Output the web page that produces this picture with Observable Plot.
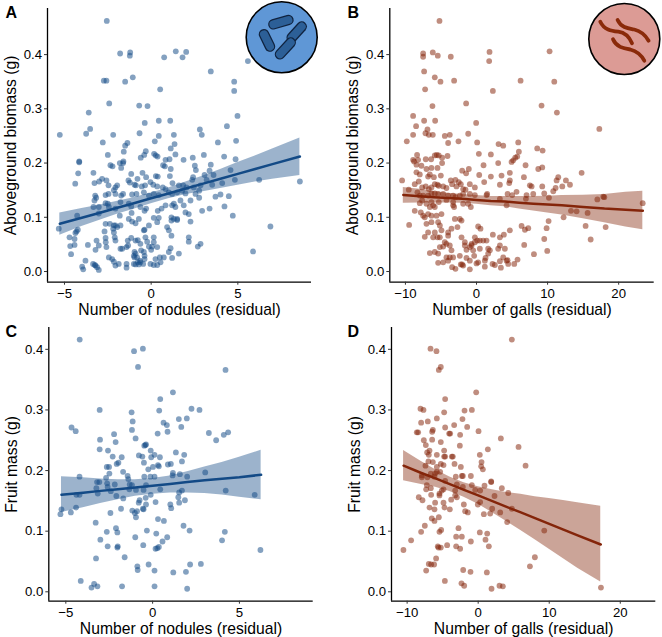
<!DOCTYPE html>
<html><head><meta charset="utf-8">
<script src="https://cdn.jsdelivr.net/npm/d3@7"></script>
<script src="https://cdn.jsdelivr.net/npm/@observablehq/plot@0.6"></script>
<style>
html,body{margin:0;padding:0;background:#fff}
#root{position:relative;width:662px;height:637px;overflow:hidden;font-family:"Liberation Sans",Arial,sans-serif}
#root>svg,#root>div{position:absolute}
</style></head><body><div id="root"></div>
<script>
const nodX = "Number of nodules (residual)", galX = "Number of galls (residual)";
const bioY = "Aboveground biomass (g)", fruitY = "Fruit mass (g)";
const blue = "#134a86", brown = "#84250a";

const aPts = [[-2.56,.462],[-1.79,.402],[-1.21,.404],[-1.23,.398],[.75,.395],[1.42,.406],[1.81,.395],[2.02,.405],[5.58,.388],[3.44,.369],[-2.73,.352],[-2.58,.352],[-1.5,.35],[-1.06,.358],[4.79,.35],[4.79,.333],[.52,.336],[-2.42,.31],[-.69,.306],[-.21,.305],[-3.6,.293],[4.98,.287],[-.37,.274],[.44,.278],[1.1,.278],[4.37,.268],[2.81,.262],[-3.52,.263],[-3.75,.254],[-5.27,.252],[-2.19,.252],[-.67,.255],[.44,.25],[1.31,.252],[2.92,.252],[-2.79,.238],[-1.37,.237],[-1.5,.232],[.21,.24],[1.35,.235],[1.13,.227],[3.85,.238],[4.9,.241],[-1.58,.221],[-.31,.222],[-2.5,.215],[-.4,.215],[-.6,.21],[.17,.217],[.27,.214],[.37,.212],[1.4,.216],[2.4,.21],[3.04,.215],[4.21,.212],[4.87,.207],[.83,.206],[1.06,.207],[1.87,.206],[-4.15,.203],[-1.6,.203],
[-4.15,.2015],[-2.35,.196],[-2.23,.194],[-1.81,.2],[-1.62,.2],[-1.73,.191],[.69,.196],[.79,.194],[1.13,.189],[2.52,.195],[2.58,.187],[3.44,.197],[3.37,.186],[4.58,.187],[-4.21,.181],[-3.33,.182],[-1.15,.18],[-.5,.182],[.27,.176],[.38,.175],[1.08,.176],[2.42,.174],[3.08,.178],[3.6,.178],[-4.38,.162],[-3.27,.163],[-3,.166],[-2.83,.171],[-2.58,.168],[-2.46,.159],[-2.06,.155],[-1.96,.159],[-1.31,.168],[-1.23,.164],[-.79,.171],[-.29,.174],[-.96,.16],[-.88,.159],[-.54,.157],[-.35,.159],[-.04,.165],[.12,.16],[.35,.157],[.67,.155],[1.23,.163],[1.6,.159],[1.85,.159],[2.04,.155],[2.37,.169],[2.46,.155],[2.85,.159],[3.52,.16],[4.1,.163],[4.83,.169],[6.23,.169],[8.58,.166],[3.2,.169],
[-3.23,.14],[-3.17,.136],[-3.27,.131],[-2.63,.141],[-2.46,.143],[-2.15,.15],[-2.06,.143],[-1.73,.14],[-1.62,.143],[-1.1,.142],[-.85,.143],[-.42,.146],[-.13,.14],[.15,.143],[.44,.141],[.83,.152],[1.02,.146],[1.21,.143],[1.5,.146],[1.79,.149],[1.98,.144],[2.27,.131],[2.56,.143],[2.77,.149],[2.77,.136],[3.71,.138],[4,.142],[4.48,.139],[4.23,.12],[4.71,.103],[6.88,.083],[5.88,.037],[-4.27,.103],[-3.33,.119],[-3.02,.119],[-2.63,.126],[-2.5,.125],
[-3.02,.107],[-2.44,.119],[-2.06,.116],[-1.77,.128],[-1.81,.103],[-1.29,.125],[-1.15,.12],[-1.13,.108],[-1.29,.097],[-1.1,.092],[-.71,.097],[-.9,.089],[-.62,.119],[-.38,.112],[-.29,.116],[.38,.112],[.6,.116],[.83,.122],[1.21,.122],[1.31,.125],[1.69,.131],[1.4,.119],[1.88,.122],[1.98,.109],[2.17,.106],[1.17,.1],[1.31,.097],[1.5,.097],[1.17,.094],[1.5,.095],[2.27,.092],[2.94,.112],[3.37,.116],[.15,.099],[.44,.099],[.35,.091],[-.13,.085],[-.42,.076],[-.38,.077],[.92,.082],[1.02,.076],[1.17,.066],[2.17,.063],[2.17,.055],[2.85,.051],[2.69,.046],[1.6,.033],[1.21,.025],[1.12,.043],[1.02,.036],[.73,.026],[.5,.026],[.25,.023],[.54,.017],[.35,.012],[.15,.012],[-.04,.014],
[-5.33,.079],[-4.71,.063],[-4.42,.06],[-4.23,.077],[-4.31,.074],[-4.37,.071],[-4.67,.047],[-4.42,.049],[-4.62,.032],[-3.65,.049],[-3.98,.009],[-3.92,.004],[-3.79,.02],[-3.35,.014],[-3.21,.011],[-3.12,.008],[-3.02,.003],[-3.25,.012],[-3.15,.057],[-3.02,.048],[-3.21,.04],[-2.63,.062],[-2.62,.054],[-2.58,.045],[-2.69,.074],[-2.63,.088],[-2.38,.088],[-2.15,.085],[-2.19,.079],[-2.06,.085],[-1.96,.082],[-1.77,.085],[-2.15,.072],[-2.1,.063],[-2.06,.057],[-1.77,.042],[-1.67,.042],[-1.42,.045],[-1.33,.048],[-2.44,.026],[-2.25,.023],[-2.15,.018],[-2.06,.011],[-1.87,.014],[-1.42,.014],[-1.42,.007],[-1.35,.057],[-1.15,.062],[-.9,.057],[-.77,.058],[-.62,.051],[-.33,.063],[-.23,.055],[.15,.063],[.15,.054],[.06,.046],[-.13,.046],[0,.04],[.35,.045],[-.96,.036],[-.9,.033],[-1,.029],[-.96,.026],[-.81,.026],[-.58,.039],[-.42,.036],[-.38,.029],[-.38,.023],[-.65,.02],[-.77,.017],[-.62,.017],[-.46,.014],[-1,.014],[-.9,.013],[-.71,.013]];

const bPts = [[-5.21,.462],[10.28,.406],[1.83,.405],[-7.51,.402],[-7.51,.396],[-6.15,.404],[-5.45,.398],[-3.62,.396],[1.78,.388],[-7.37,.369],[-5.87,.358],[-5.07,.35],[-3.15,.352],[6.2,.352],[10.94,.35],[-7.23,.336],[2.3,.333],[-6.2,.305],[-1.46,.31],[9.15,.306],[11.31,.293],[-8.92,.287],[-7.37,.278],[-5.82,.278],[-.05,.274],[-8.5,.268],[-6.9,.262],[17.28,.263],[-8.92,.252],[-7.18,.255],[-6.71,.252],[-6.15,.252],[-4.46,.25],[-3.76,.252],[-1.17,.254],[-9.81,.24],[-3.99,.237],[-2.54,.24],[.09,.238],[5.87,.238],[3.1,.235],[3.76,.232],[8.54,.227],[9.3,.223],[5.96,.221],[.33,.217],[2.02,.216],[-8.36,.215],[-5.87,.214],[-5.59,.215],[-5.31,.214],[-4.08,.213],[5.73,.212],[5.45,.21],[-4.84,.21],[-8.92,.206],[-8.22,.206],[-7.14,.207],[-6.38,.207],[5.16,.205],
[-8.78,.203],[-8.45,.197],[-7.75,.195],[-7.04,.189],[-6.34,.191],[-5.49,.191],[-4.84,.2],[-8.45,.183],[-7.98,.179],[-6.57,.179],[-6.81,.175],[-6,.174],[-5.02,.177],[-2.02,.186],[-1.08,.189],[-1.46,.181],[.99,.196],[3.05,.2],[4.93,.202],[6.9,.196],[8.69,.189],[9.25,.192],[14.79,.182],[6.67,.174],[4.69,.182],[3.52,.177],[2.02,.175],[.38,.178],[1.08,.165],[3.29,.16],[4.69,.168],[4.6,.163],[7.51,.159],[7.75,.157],[9.25,.157],[11.5,.174],[11.27,.168],[12.58,.168],[13.15,.16],[12.07,.157],[10.8,.148],[11.13,.154],[9.53,.144],[10.19,.136],[7.98,.143],[7.04,.141],[6.95,.134],[5.63,.147],[5.02,.141],[4.37,.143],[3.29,.134],[4.23,.122],[1.5,.143],[1.41,.141],[-10.47,.168],[-9.53,.151],[-9.48,.086],[-8.69,.112],[-7.84,.109],[17.84,.138],[17.98,.137],[17,.133],[23.38,.126],[13.29,.112],[14.08,.111],[12.25,.1],[15.63,.108],[15.35,.084],[18.17,.082],[16.06,.059],[10.14,.093],[9.86,.08],[9.53,.06],[9.95,.038],[8.08,.032],[6.34,.084],[6.81,.077],[7.28,.08],[6.71,.049],[5.77,.022],[5.31,.014],[4.69,.076],[3.85,.068],[3.29,.063],[2.3,.068],[3.05,.042],[3.99,.042],
[3.29,.048],[1.88,.039],[1.64,.033],[1.27,.025],[1.17,.02],[1.17,.009],[2.25,.014],[2.58,.012],[3.43,.007],[3.29,.019],[3.76,.026],[4.23,.02],[4.46,.014],[4.37,.021],
[-8.69,.161],[-8.12,.166],[-7.65,.155],[-7.14,.157],[-6.71,.152],[-6.34,.155],[-5.87,.161],[-5.49,.16],[-5.31,.158],[-4.69,.157],[-4.23,.154],[-3.62,.168],[-2.96,.169],[-2.49,.165],[-2.21,.161],[-3.43,.161],[-2.82,.157],[-1.88,.152],[-1.55,.151],[-.94,.161],[-.23,.155],[-.94,.143],[-.23,.141],[-1.88,.143],[-2.35,.14],[-2.96,.137],[-3.29,.14],[-3.99,.14],[-4.69,.143],[-5.4,.143],[-5.87,.144],[-6.34,.144],[-6.81,.14],[-7.51,.14],[-7.98,.14],[-8.31,.146],[-7.65,.131],[-7.98,.126],[-7.04,.125],[-6.34,.128],[-6.57,.119],[-6.1,.122],[-5.87,.119],[-5.31,.128],[-4.23,.132],[-3.29,.128],[-3.29,.122],[-3.15,.119],[-1.88,.125],[-1.17,.125],[-.8,.119],[-6.81,.106],[-7.28,.1],[-7.51,.103],[-6.34,.103],[-5.63,.103],[-4.93,.106],[-5.4,.091],[-5.16,.085],[-7.04,.088],[-6.34,.091],[-4.93,.076],[-3.99,.072],[-3.52,.079],[-3.05,.097],[-2.35,.097],[-2.11,.094],[-2.68,.082],[-5.87,.072],[-5.49,.063],[-6.81,.072],[-7.28,.064],[-6.1,.063],[-5.16,.063],[-4.46,.054],[-3.99,.066],[-4.23,.051],[-3.76,.048],[-5.16,.045],[-4.69,.046],[-3.52,.039],[-6.57,.034],[-5.87,.036],[-5.4,.033],[-4.23,.026],[-3.76,.026],[-4.69,.017],[-3.99,.02],[-5.4,.016],[-3.29,.026],[-2.35,.029],[-1.41,.025],[-.94,.02],[-3.43,.008],[-2.96,.005],[-2.21,.013],[-2.02,.013],[-1.88,.011],[-.94,.004],[.23,.017],[0,.015],[-.23,.063],[.23,.083],[.56,.079],[.09,.057],[.47,.057],[.94,.057],[1.41,.057],[-.23,.054],[-.7,.051],[-2.11,.063],[-1.64,.054],[-1.41,.04],[-.47,.039],[-.7,.048],[.47,.042],[1.64,.042],[-.33,.029],[-1.64,.048],[-.94,.045]];

const cPts = [[-4.2,.416],[-1.07,.397],[-.56,.401],[-.84,.371],[4.2,.366],[1.17,.329],[.44,.318],[-3.05,.3],[.38,.299],[2.24,.302],[2.7,.3],[-1.21,.296],[-1.15,.281],[1.51,.285],[1.97,.286],[.63,.279],[.82,.275],[1.65,.272],[-4.67,.271],[-4.43,.265],[-1.19,.267],[.86,.264],[.29,.261],[3.24,.262],[4.35,.263],[4.1,.259],[-2.22,.26],[-3.03,.251],[-2.13,.247],[-.98,.253],[3.66,.25],[-.48,.241],[-.42,.242],[-.38,.243],[-3.05,.235],[-2.57,.233],[-.11,.233],[1.34,.23],[-.79,.225],[-.59,.223],[-2.3,.223],[-1.78,.222],[-.08,.222],[.11,.226],[.42,.222],[1.82,.226],[-.5,.213],[1.69,.215],[-1.97,.213],[-2.07,.211],[.88,.21],[1.05,.211],[.31,.209],[.36,.207],[-2.64,.206],[-2.51,.206],[.02,.206],[-.25,.202],[-2.49,.195],[-1.7,.198],[1.17,.196],[1.57,.194],[1.15,.192],[3.03,.197],[-1.44,.191],[-.48,.19],[-.13,.19],[.11,.19],[-4.21,.19],[-2.68,.188],[-1.4,.186],[1.99,.19],
[-3.2,.181],[-3.07,.181],[-2.62,.179],[-2.18,.177],[-2.59,.173],[-1.32,.177],[-1.19,.176],[-.38,.176],[-3.24,.171],[-1.34,.169],[-.96,.168],[-.52,.168],[.44,.169],[1.69,.167],[4.21,.167],[-2.41,.166],[-3.16,.162],[-2.09,.158],[-1.69,.154],[-4.39,.16],[-4.21,.16],[-.11,.16],[-.4,.155],[1.53,.164],[1.48,.156],[5.88,.16],[1.86,.151],[1.53,.147],[.17,.148],[-.75,.151],[-.8,.147],[-.38,.144],[1.02,.144],[1.07,.138],[-4.41,.139],[-5.25,.136],[-5.31,.128],[-4.71,.131],[-2.43,.13],[-1.82,.137],[-1.17,.134],[-.9,.133],[-1.02,.13],[-.96,.123],[-.56,.137],[-.52,.136],[.31,.12],[.65,.117],[-3.28,.114],[1.78,.109],[-2.11,.105],[-2.64,.099],[-2.03,.098],[-.33,.101],[2.13,.101],[.21,.096],[-1,.09],[.84,.09],[4.16,.099],[4,.085],[-3.01,.086],[.57,.083],[-.54,.077],[-2.59,.075],[-2.01,.075],[-2.03,.073],[.36,.074],[.27,.072],[.17,.071],[6.21,.069],[-3.26,.055],[-1.61,.057],[-.23,.045],[-.88,.042],[-.86,.036],[.11,.035],[2.16,.045],[2.78,.046],[1.92,.033],[1.19,.032],[-4.14,.018],[-3.37,.013],[-3.52,.007],[-3.18,.009],[-1.76,.009],[.11,.009],[1.99,.005]];

const dPts = [[4.74,.416],[-6.71,.401],[-5.87,.397],[-5.26,.371],[-5.54,.366],[-.28,.329],[-4.65,.318],[-8.12,.302],[-7.7,.3],[-1.92,.299],[-.89,.3],[-4.79,.296],[-5.82,.286],[-8.03,.279],[-7.09,.281],[-2.21,.285],[-3.38,.275],[-1.55,.272],[-4.65,.271],[-6.38,.267],[-6.48,.264],[.05,.265],[-8.64,.263],[-8.45,.263],[-4.08,.261],[-3.94,.261],[-2.54,.259],[3.19,.253],[-7.65,.25],[-6.48,.251],[-5.26,.247],[-7.37,.242],[-2.58,.241],[5.68,.239],[1.36,.235],[-4.79,.233],[-6.85,.233],[-7.18,.23],[-6.95,.226],[-5.82,.226],[.23,.226],[-4.79,.223],[-4.65,.223],[-3.71,.223],[-3.57,.223],[6.67,.208],[.47,.214],[-7,.215],[-6.38,.214],[-3.33,.211],[-5.26,.211],[-4.88,.209],[.42,.207],[.66,.202],[-7.42,.208],[-2.44,.206],[-5.82,.206],[-5.82,.198],[-5.35,.198],[-6.67,.195],[-6.06,.195],[-7.93,.192],[-3.15,.19],[-2.3,.191],[-2.16,.191],[-1.03,.191],[-6.15,.19],[1.83,.182],[-4.65,.183],[-7.93,.189],[-7.14,.189],
[1.83,.181],[-7.23,.176],[-3,.177],[-6.67,.171],[-7.32,.169],[-2.16,.173],[-.89,.176],[.89,.175],[3.33,.171],[.28,.167],[-.42,.168],[-3.24,.167],[-4.88,.169],[-5.12,.167],[-6.62,.16],[-5.45,.162],[-5.45,.159],[-3.24,.159],[-3,.156],[4.23,.163],[2.3,.158],[-8.36,.156],[-7.84,.151],[-3.8,.152],[-6.06,.147],[-4.88,.147],[.28,.148],[-.05,.144],[-2.02,.144],[-6.85,.139],[-6.15,.136],[-4.74,.139],[-3.99,.136],[1.97,.137],[4.74,.137],[-1.83,.133],[-1.46,.131],[3.1,.131],[.8,.128],[1.69,.129],[-5.54,.123],[-6.53,.121],[-6.15,.117],[4.08,.115],[-7.51,.109],[-2.77,.105],[-8.03,.099],[-5.21,.102],[-5.45,.099],[9.3,.101],[.23,.098],[1.27,.096],[-3.1,.091],[-2.3,.091],[-9.44,.085],[1.03,.086],[-1.03,.083],[-4.37,.077],[-3.1,.075],[1.5,.075],[-2.54,.071],[-5.68,.075],[-5.59,.073],[-5.26,.073],[-10.52,.069],[7.98,.057],[7.28,.042],[-5.92,.055],[-6.95,.046],[-6.62,.045],[-6.2,.045],[-7.32,.035],[-2.11,.036],[-1.08,.033],[1.22,.032],[-4.69,.018],[-2.35,.014],[-1.97,.01],[3,.01],[3.47,.009],[1.88,.005],[17.28,.007]];

const aBandX = [-5.27,-4,-3,-2,-1,0,1,2,3,4,5,6,7,8.58];
const aFit   = [.088,.099,.108,.117,.126,.135,.144,.153,.162,.171,.18,.189,.198,.212];
const aHi    = [.108,.116,.122,.129,.136,.145,.154,.165,.176,.188,.201,.213,.226,.246];
const aLo    = [.067,.083,.094,.105,.115,.125,.134,.142,.147,.153,.159,.165,.17,.177];

const bBandX = [-10.3,-8,-6,-4,-2,0,2,4,6,8,10,12,15,18,21,23.4];
const bFit   = [.141,.139,.137,.1355,.134,.132,.13,.129,.127,.125,.1235,.122,.119,.116,.114,.112];
const bHi    = [.155,.1515,.1475,.1445,.142,.14,.1385,.1385,.1385,.1385,.139,.14,.1405,.142,.146,.148];
const bLo    = [.126,.1265,.1265,.1265,.126,.124,.1215,.1195,.1155,.1115,.108,.1042,.0975,.09,.082,.077];

const cBandX = [-5.25,-4,-3,-2,-1,0,1,2,3,4,5,6.25];
const cFit   = [.16,.1635,.1665,.169,.172,.175,.178,.181,.184,.1865,.189,.193];
const cHi    = [.19,.188,.186,.185,.185,.187,.191,.198,.206,.2135,.222,.2335];
const cLo    = [.131,.1385,.1455,.152,.1575,.161,.163,.163,.162,.1595,.156,.152];

const dBandX = [-10.5,-8,-6,-4,-2,0,2,4,6,8,10,12,14,17.25];
const dFit   = [.208,.196,.187,.1775,.168,.159,.1495,.14,.131,.1215,.112,.1025,.093,.078];
const dHi    = [.233,.215,.2015,.1895,.18,.1735,.1685,.164,.161,.157,.154,.1505,.147,.141];
const dLo    = [.183,.177,.1725,.1655,.156,.1445,.1305,.116,.101,.086,.07,.0545,.039,.016];

const nodTicks = [-5,0,5], galTicks = [-10,0,10,20], yTicks = [0,.1,.2,.3,.4];

const root = document.getElementById("root");
function panel(o){
  const band = o.bx.map((x,i)=>({x,fit:o.fit[i],lo:o.lo[i],hi:o.hi[i]}));
  const svg = Plot.plot({
    width:331, height:o.h,
    marginLeft:o.ml, marginRight:o.mr, marginTop:o.mt, marginBottom:o.mb,
    style:{fontFamily:'"Liberation Sans",Arial,sans-serif',background:"transparent",color:"#000",overflow:"visible"},
    x:{domain:o.xd}, y:{domain:o.yd},
    marks:[
      Plot.dot(o.pts,{x:d=>d[0],y:d=>d[1],r:2.9,fill:o.c,fillOpacity:.52,stroke:null}),
      Plot.areaY(band,{x:"x",y1:"lo",y2:"hi",fill:o.c,fillOpacity:.42}),
      Plot.line(band,{x:"x",y:"fit",stroke:o.c,strokeWidth:2.5}),
      Plot.ruleX([o.xd[0]],{stroke:"#000",strokeWidth:1.3}),
      Plot.ruleY([o.yd[0]],{stroke:"#000",strokeWidth:1.3}),
      Plot.axisX(o.xt,{label:null,tickSize:3,tickPadding:3.5,fontSize:13.2,stroke:"#333",fill:"#000"}),
      Plot.axisY(yTicks,{label:null,tickSize:3,tickPadding:2.5,fontSize:13.2,tickFormat:".1f",stroke:"#333",fill:"#000"}),
      Plot.text([o.xl],{frameAnchor:"bottom",dy:33,fontSize:15.7,fill:"#000"}),
      Plot.text([o.yl],{frameAnchor:"left",textAnchor:"middle",rotate:-90,dx:o.ylx,fontSize:15.7,fill:"#000"}),
      Plot.text([o.tag],{frameAnchor:"top-left",dx:5-o.ml+o.tagx,dy:-2,fontSize:16,fontWeight:"bold",fill:"#000"})
    ]
  });
  svg.style.left=o.left+"px"; svg.style.top=o.top+"px";
  root.appendChild(svg);
}
const yA=[-.0197,.485], yC=[-.0155,.436], xN=[-5.98,9.25], xG=[-12.2,25];
panel({tag:"A",tagx:0,left:0,top:0,h:318,ml:47,mr:20,mt:8,mb:36.3,xd:xN,yd:yA,pts:aPts,bx:aBandX,fit:aFit,lo:aLo,hi:aHi,c:blue,xt:nodTicks,xl:nodX,yl:bioY,ylx:-37});
panel({tag:"B",tagx:11,left:331,top:0,h:318,ml:58.3,mr:8.3,mt:8,mb:36.3,xd:xG,yd:yA,pts:bPts,bx:bBandX,fit:bFit,lo:bLo,hi:bHi,c:brown,xt:galTicks,xl:galX,yl:bioY,ylx:-37});
panel({tag:"C",tagx:0,left:0,top:319,h:318,ml:48.3,mr:18.3,mt:8,mb:36.3,xd:xN,yd:yC,pts:cPts,bx:cBandX,fit:cFit,lo:cLo,hi:cHi,c:blue,xt:nodTicks,xl:nodX,yl:fruitY,ylx:-37});
panel({tag:"D",tagx:11,left:331,top:319,h:318,ml:60,mr:6.7,mt:8,mb:36.3,xd:xG,yd:yC,pts:dPts,bx:dBandX,fit:dFit,lo:dLo,hi:dHi,c:brown,xt:galTicks,xl:galX,yl:fruitY,ylx:-37});

// Inset icons (decorative pictograms)
const ns="http://www.w3.org/2000/svg";
const overlay=document.createElementNS(ns,"svg");
overlay.setAttribute("width",662);overlay.setAttribute("height",637);overlay.style.left="0";overlay.style.top="0";
const rods=[[-8.3,-13,6.7,-17.3],[-17.7,-3,-11.7,9.3],[20,-10.7,10,.3],[9,5.3,-1.7,17]];
const worms=["M-24,-17.3C-20,-9,-13,-8,-6,-7.3C0,-6.5,5,-2,7.7,4.3","M-6.7,-19C-3,-11,4,-10.5,10,-9.5C16,-8,21,-4,24.3,1.7","M-11.3,.3C-8,8,-1,9.5,6,10.5C12,12,17,16,20,21.7"];
let html=`<g transform="translate(281.7,37.3)"><circle r="35.5" fill="#5f97d6" stroke="#000" stroke-width="1.6"/>`;
for(const r of rods) html+=`<line x1="${r[0]}" y1="${r[1]}" x2="${r[2]}" y2="${r[3]}" stroke="#10233f" stroke-width="10.5" stroke-linecap="round"/><line x1="${r[0]}" y1="${r[1]}" x2="${r[2]}" y2="${r[3]}" stroke="#2c5f97" stroke-width="8" stroke-linecap="round"/>`;
html+=`</g><g transform="translate(624.3,39)"><circle r="35.5" fill="#dc9b95" stroke="#000" stroke-width="1.6"/>`;
for(const w of worms) html+=`<path d="${w}" fill="none" stroke="#8a2a0a" stroke-width="3.8" stroke-linecap="round"/>`;
html+=`</g>`;
overlay.innerHTML=html;
root.appendChild(overlay);
</script></body></html>
